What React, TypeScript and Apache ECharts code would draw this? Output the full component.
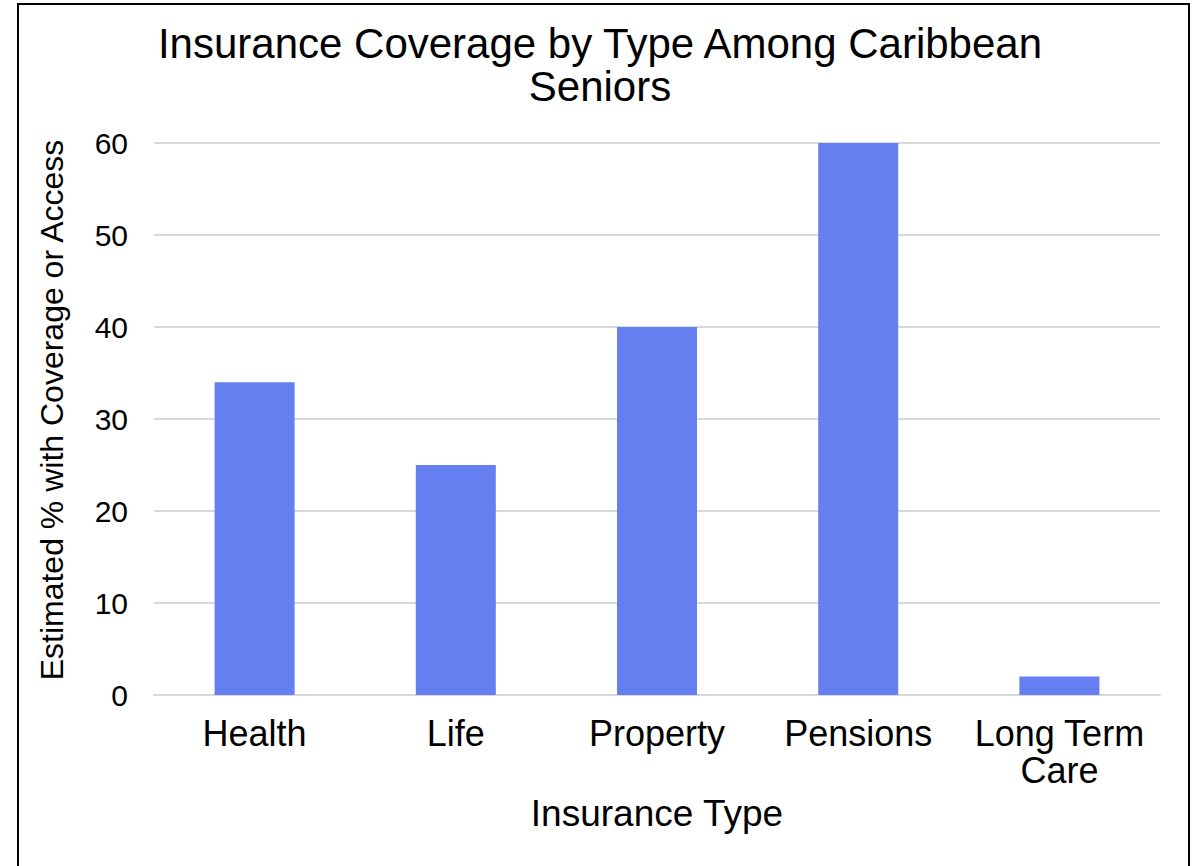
import React, { useEffect, useRef } from "react";
import * as echarts from "echarts";

const categories = ["Health", "Life", "Property", "Pensions", "Long Term\nCare"];
const coverage = [34, 25, 40, 60, 2];
const yTicks = { min: 0, max: 60, interval: 10 };
const chartTitle = "Insurance Coverage by Type Among Caribbean\nSeniors";

const FONT = "'Liberation Sans', Arial, sans-serif";

export default function App() {
  const ref = useRef<HTMLDivElement>(null);

  useEffect(() => {
    document.body.style.margin = "0";
    if (!ref.current) return;
    const chart = echarts.init(ref.current, undefined, { renderer: "svg" });
    chart.setOption({
      animation: false,
      backgroundColor: "#ffffff",
      textStyle: { fontFamily: FONT },
      graphic: [
        {
          type: "text",
          x: 600,
          y: 22,
          style: {
            text: chartTitle,
            align: "center",
            verticalAlign: "top",
            fontFamily: FONT,
            fontSize: 42,
            lineHeight: 43,
            fill: "#000000",
          },
          silent: true,
        },
        {
          type: "rect",
          shape: { x: 18, y: 4, width: 1171, height: 900 },
          style: { fill: "none", stroke: "#000000", lineWidth: 2 },
          silent: true,
          z: 10,
        },
      ],
      grid: { left: 154, right: 41, top: 143, bottom: 171, containLabel: false },
      xAxis: {
        type: "category",
        data: categories,
        name: "Insurance Type",
        nameLocation: "middle",
        nameGap: 100,
        nameTextStyle: {
          fontFamily: FONT,
          fontSize: 37,
          lineHeight: 37,
          color: "#000000",
        },
        axisLine: { show: true, lineStyle: { color: "#d9d9d9", width: 2 } },
        axisTick: { show: false },
        axisLabel: {
          fontFamily: FONT,
          fontSize: 36,
          lineHeight: 37,
          color: "#000000",
          margin: 20,
          interval: 0,
        },
      },
      yAxis: {
        type: "value",
        min: yTicks.min,
        max: yTicks.max,
        interval: yTicks.interval,
        name: "Estimated % with Coverage or Access",
        nameLocation: "middle",
        nameGap: 86,
        nameTextStyle: {
          fontFamily: FONT,
          fontSize: 32,
          lineHeight: 32,
          color: "#000000",
          padding: [0, 0, 0, 18],
        },
        axisLine: { show: false },
        axisTick: { show: false },
        axisLabel: {
          fontFamily: FONT,
          fontSize: 30,
          color: "#000000",
          margin: 26,
        },
        splitLine: { show: true, lineStyle: { color: "#d9d9d9", width: 2 } },
      },
      series: [
        {
          type: "bar",
          data: coverage,
          barWidth: 80,
          itemStyle: { color: "#657ef0" },
        },
      ],
    });
    return () => chart.dispose();
  }, []);

  return <div ref={ref} style={{ width: 1201, height: 866 }} />;
}
